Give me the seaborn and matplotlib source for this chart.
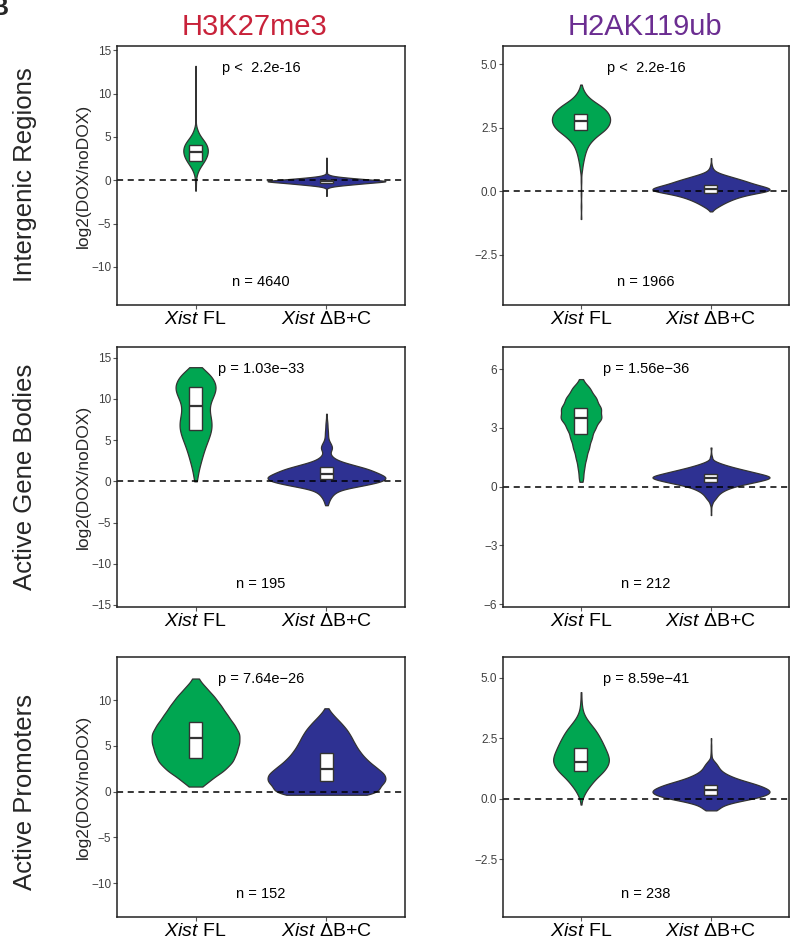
import numpy as np
import pandas as pd
import seaborn as sns
import matplotlib.pyplot as plt

# ------------------------------DATOS------------------------------

groups = ['Xist FL', 'Xist dB+C']
tick_labels = [r'$\mathit{Xist}$ FL', r'$\mathit{Xist}$ ΔB+C']
marks = ['H3K27me3', 'H2AK119ub']
mark_colors = ['#C8223A', '#6B2D91']
regions = ['Intergenic Regions', 'Active Gene Bodies', 'Active Promoters']
violin_colors = ['#00A651', '#2E3192']

p_texts = [['p <  2.2e-16', 'p <  2.2e-16'],
           ['p = 1.03e\u221233', 'p = 1.56e\u221236'],
           ['p = 7.64e\u221226', 'p = 8.59e\u221241']]
n_counts = [[4640, 1966], [195, 212], [152, 238]]

ylims = [[(-14.4, 15.5), (-4.49, 5.72)],
         [(-15.25, 16.3), (-6.15, 7.14)],
         [(-13.7, 14.7), (-4.88, 5.85)]]
yticks = [[[-10, -5, 0, 5, 10, 15], [-2.5, 0, 2.5, 5]],
          [[-15, -10, -5, 0, 5, 10, 15], [-6, -3, 0, 3, 6]],
          [[-10, -5, 0, 5, 10], [-2.5, 0, 2.5, 5]]]

# forma de cada violín: valores y recuentos relativos (anchura leída)
k27_inter_fl_vals = [-1.2, -0.5, 0.0, 0.5, 1.0, 1.5, 2.0, 2.5, 3.0, 3.5, 4.0, 4.5, 5.0, 5.5, 6.0,
                     7.0, 8.0, 9.5, 11.0, 12.2, 13.2]
k27_inter_fl_cnts = [1, 1, 1, 2, 5, 10, 17, 23, 27, 28, 26, 20, 12, 6, 3, 1, 1, 1, 1, 1, 1]
k27_inter_dbc_vals = [-1.8, -1.4, -1.1, -0.9, -0.8, -0.7, -0.6, -0.5, -0.4, -0.3, -0.2, -0.1, 0.0,
                      0.1, 0.2, 0.3, 0.4, 0.5, 0.6, 0.7, 0.9, 1.2, 1.6, 2.0, 2.6]
k27_inter_dbc_cnts = [1, 1, 1, 2, 6, 14, 28, 45, 62, 80, 100, 118, 98, 78, 58, 40, 24, 12, 6, 3,
                      2, 1, 1, 1, 1]

k2a_inter_fl_vals = [-1.1, -0.6, -0.1, 0.4, 0.8, 1.0, 1.2, 1.4, 1.6, 1.8, 2.0, 2.2, 2.4, 2.6, 2.8,
                     3.0, 3.2, 3.4, 3.6, 3.8, 4.0, 4.2]
k2a_inter_fl_cnts = [1, 1, 1, 1, 2, 3, 5, 7, 10, 14, 22, 33, 48, 56, 59, 57, 50, 37, 20, 10, 4, 1]
k2a_inter_dbc_vals = [-0.8, -0.7, -0.6, -0.5, -0.4, -0.3, -0.2, -0.1, 0.0, 0.1, 0.2, 0.3, 0.4, 0.5,
                      0.6, 0.7, 0.8, 0.9, 1.0, 1.1, 1.3]
k2a_inter_dbc_cnts = [2, 8, 18, 28, 40, 54, 72, 98, 135, 140, 118, 96, 80, 60, 40, 20, 8, 4, 2, 1, 1]

k27_gene_fl_vals = [0.0, 0.5, 1.5, 2.5, 3.5, 4.5, 5.5, 6.5, 7.5, 8.5, 9.5, 10.5, 11.5, 12.5, 13.3, 13.85]
k27_gene_fl_cnts = [1, 3, 6, 10, 14, 19, 25, 29, 28, 24, 25, 33, 38, 30, 14, 4]
k27_gene_dbc_vals = [-2.9, -2.5, -2.0, -1.5, -1.0, -0.5, 0.0, 0.5, 1.0, 1.5, 2.0, 2.5, 3.0, 3.5,
                     4.0, 4.5, 5.0, 5.5, 6.0, 6.5, 7.0, 7.5, 8.2]
k27_gene_dbc_cnts = [2, 4, 8, 14, 26, 70, 108, 116, 97, 80, 50, 22, 10, 6, 12, 9, 4, 3, 3, 2, 2, 1, 1]

k2a_gene_fl_vals = [0.25, 0.5, 1.0, 1.5, 2.0, 2.5, 3.0, 3.5, 4.0, 4.5, 5.0, 5.5]
k2a_gene_fl_cnts = [1, 3, 5, 8, 12, 16, 21, 31, 30, 23, 14, 2]
k2a_gene_dbc_vals = [-1.45, -1.2, -1.0, -0.85, -0.7, -0.6, -0.5, -0.4, -0.3, -0.2, -0.1, 0.0, 0.1,
                     0.2, 0.3, 0.4, 0.5, 0.6, 0.7, 0.8, 0.9, 1.0, 1.1, 1.2, 1.3, 1.5, 1.7, 2.0]
k2a_gene_dbc_cnts = [1, 1, 1, 4, 6, 9, 11, 14, 18, 24, 32, 42, 58, 76, 92, 108, 115, 100, 85, 70,
                     55, 40, 28, 16, 8, 4, 1, 2]

k27_prom_fl_vals = [0.55, 1.3, 2.3, 3.3, 4.3, 5.3, 6.3, 7.3, 8.3, 9.3, 10.3, 11.3, 12.35]
k27_prom_fl_cnts = [6, 26, 52, 68, 74, 79, 80, 70, 58, 47, 35, 20, 5]
k27_prom_dbc_vals = [-0.35, 0.3, 1.1, 1.9, 2.7, 3.5, 4.3, 5.1, 5.9, 6.7, 7.5, 8.3, 9.1]
k27_prom_dbc_cnts = [80, 90, 115, 112, 93, 76, 64, 55, 48, 40, 28, 14, 2]

k2a_prom_fl_vals = [-0.24, 0.1, 0.35, 0.6, 0.85, 1.1, 1.35, 1.6, 1.85, 2.1, 2.35, 2.6, 2.85, 3.1,
                    3.35, 3.6, 3.85, 4.1, 4.4]
k2a_prom_fl_cnts = [1, 5, 12, 22, 33, 48, 58, 62, 58, 52, 46, 39, 31, 20, 10, 4, 2, 1, 1]
k2a_prom_dbc_vals = [-0.48, -0.4, -0.3, -0.2, -0.1, 0.0, 0.1, 0.2, 0.3, 0.4, 0.5, 0.6, 0.7, 0.8,
                     0.9, 1.0, 1.1, 1.2, 1.3, 1.4, 1.5, 1.6, 1.8, 2.0, 2.2, 2.5]
k2a_prom_dbc_cnts = [10, 14, 20, 32, 52, 78, 96, 108, 112, 106, 96, 84, 68, 52, 40, 30, 22, 17,
                     14, 12, 8, 4, 2, 1, 1, 1]

# cajas: (Q1, mediana, Q3) por grupo
box_q1 = [[[2.2, -0.3], [2.39, -0.09]],
          [[6.26, 0.24], [2.7, 0.22]],
          [[3.64, 1.2], [1.13, 0.17]]]
box_med = [[[3.25, -0.12], [2.76, 0.09]],
           [[9.1, 0.85], [3.53, 0.43]],
           [[5.89, 2.48], [1.51, 0.38]]]
box_q3 = [[[4.1, 0.08], [3.02, 0.24]],
          [[11.4, 1.73], [4.01, 0.63]],
          [[7.63, 4.19], [2.11, 0.58]]]

shapes = [[[(k27_inter_fl_vals, k27_inter_fl_cnts), (k27_inter_dbc_vals, k27_inter_dbc_cnts)],
           [(k2a_inter_fl_vals, k2a_inter_fl_cnts), (k2a_inter_dbc_vals, k2a_inter_dbc_cnts)]],
          [[(k27_gene_fl_vals, k27_gene_fl_cnts), (k27_gene_dbc_vals, k27_gene_dbc_cnts)],
           [(k2a_gene_fl_vals, k2a_gene_fl_cnts), (k2a_gene_dbc_vals, k2a_gene_dbc_cnts)]],
          [[(k27_prom_fl_vals, k27_prom_fl_cnts), (k27_prom_dbc_vals, k27_prom_dbc_cnts)],
           [(k2a_prom_fl_vals, k2a_prom_fl_cnts), (k2a_prom_dbc_vals, k2a_prom_dbc_cnts)]]]

# ------------------------------ESTILO------------------------------
sns.set_style('white')
plt.rcParams['font.family'] = ['Liberation Sans', 'DejaVu Sans']
plt.rcParams['mathtext.fontset'] = 'custom'
plt.rcParams['mathtext.rm'] = 'Liberation Sans'
plt.rcParams['mathtext.it'] = 'Liberation Sans:italic'

W, H = 792, 944
fig = plt.figure(figsize=(W / 100, H / 100), dpi=100)

col_x = [(117, 405), (503, 789)]
row_y = [(46, 305), (347, 607), (657, 917)]


def build_df(pair):
    frames = []
    for g, (vals, cnts) in zip(groups, pair):
        frames.append(pd.DataFrame({'grupo': g, 'valor': np.repeat(vals, cnts)}))
    return pd.concat(frames, ignore_index=True)


for r in range(3):
    for c in range(2):
        x0, x1 = col_x[c]
        y0, y1 = row_y[r]
        ax = fig.add_axes([x0 / W, 1 - y1 / H, (x1 - x0) / W, (y1 - y0) / H])

        df = build_df(shapes[r][c])
        sns.violinplot(data=df, x='grupo', y='valor', hue='grupo', order=groups,
                       hue_order=groups, palette=violin_colors, saturation=1,
                       inner=None, cut=0, density_norm='area', common_norm=True,
                       width=0.9, bw_method=0.22, gridsize=400, linewidth=0.9,
                       linecolor='#333333', legend=False, ax=ax)

        ax.axhline(0, color='black', lw=1.1, ls=(0, (4, 3)), zorder=2.5)

        stats = [{'q1': box_q1[r][c][i], 'med': box_med[r][c][i], 'q3': box_q3[r][c][i],
                  'whislo': box_q1[r][c][i], 'whishi': box_q3[r][c][i], 'fliers': []}
                 for i in range(2)]
        ax.bxp(stats, positions=[0, 1], widths=0.1, patch_artist=True, showcaps=False,
               showfliers=False, manage_ticks=False, zorder=3,
               boxprops=dict(facecolor='white', edgecolor='#333333', lw=1.0),
               medianprops=dict(color='#333333', lw=1.6),
               whiskerprops=dict(lw=0))

        ax.set_xlim(-0.6, 1.6)
        ax.set_ylim(*ylims[r][c])
        ax.set_yticks(yticks[r][c])
        ax.set_xticks([0, 1])
        ax.set_xticklabels(tick_labels, fontsize=14, color='black')
        ax.set_xlabel('')
        ax.set_ylabel('')
        ax.tick_params(axis='y', labelsize=8.5, labelcolor='#404040', length=3, width=0.8,
                       color='#555555', pad=1, left=True)
        ax.tick_params(axis='x', length=3, width=0.8, color='#555555', pad=1, bottom=True)
        for s in ax.spines.values():
            s.set_visible(True)
            s.set_color('#222222')
            s.set_linewidth(1.1)

        ax.text(0.5, 0.915, p_texts[r][c], transform=ax.transAxes, ha='center', va='center',
                fontsize=10.5, color='black')
        ax.text(0.5, 0.09, f'n = {n_counts[r][c]}', transform=ax.transAxes, ha='center',
                va='center', fontsize=10.5, color='black')

        if c == 0:
            fig.text(83 / W, 1 - (y0 + y1) / 2 / H, 'log2(DOX/noDOX)', rotation=90,
                     ha='center', va='center', fontsize=12.5)

# etiquetas de filas y columnas
row_centers = [175, 477, 792]
for reg, yc in zip(regions, row_centers):
    fig.text(25 / W, 1 - yc / H, reg, rotation=90, ha='center', va='center', fontsize=18.5)

col_centers = [255, 645]
for mk, colr, xc in zip(marks, mark_colors, col_centers):
    fig.text(xc / W, 1 - 35 / H, mk, ha='center', va='baseline', fontsize=21, color=colr)

# letra del panel (recortada en el borde, como en el original)
fig.text(8 / W, 1 - 15 / H, 'B', ha='right', va='baseline', fontsize=18, fontweight='bold')

fig.savefig('out.png', dpi=100)
